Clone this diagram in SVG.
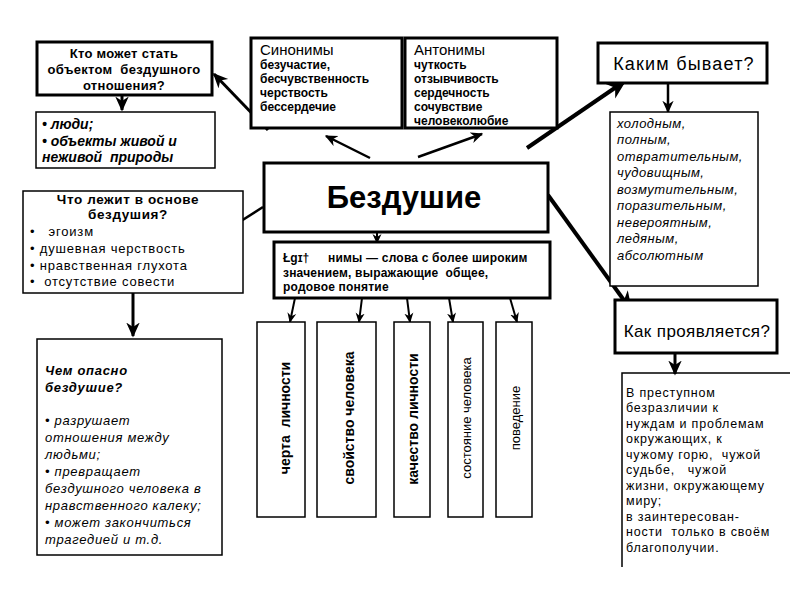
<svg xmlns="http://www.w3.org/2000/svg" width="800" height="600" viewBox="0 0 800 600">
<defs>
<marker id="ah" viewBox="0 0 10 10" refX="9" refY="5" markerWidth="5" markerHeight="5" orient="auto" markerUnits="strokeWidth">
<path d="M0,0.5 L10,5 L0,9.5 L3,5 z" fill="#000"/>
</marker>
<marker id="ahs" viewBox="0 0 10 10" refX="9" refY="5" markerWidth="5" markerHeight="5" orient="auto" markerUnits="strokeWidth">
<path d="M0,0.5 L10,5 L0,9.5 L3,5 z" fill="#000"/>
</marker>
</defs>
<style>
text{font-family:"Liberation Sans",Arial,sans-serif;fill:#000;white-space:pre}
.thick{fill:#fff;stroke:#000;stroke-width:3}
.thin{fill:#fff;stroke:#000;stroke-width:1.5}
.b{font-weight:bold}
.i{font-style:italic}
.c{text-anchor:middle}
.con{stroke:#000;fill:none}
</style>
<rect width="800" height="600" fill="#fff"/>

<g id="connectors">
<line class="con" x1="122" y1="95" x2="122" y2="110" stroke-width="3" marker-end="url(#ahs)"/>
<line class="con" x1="268" y1="130" x2="214" y2="74" stroke-width="3" marker-end="url(#ah)"/>
<line class="con" x1="370" y1="158" x2="326" y2="136" stroke-width="2.5" marker-end="url(#ah)"/>
<line class="con" x1="418" y1="157" x2="482" y2="134" stroke-width="2.5" marker-end="url(#ah)"/>
<line class="con" x1="527" y1="148" x2="625" y2="81" stroke-width="4" marker-end="url(#ah)"/>
<line class="con" x1="548" y1="195" x2="631" y2="310" stroke-width="4" marker-end="url(#ah)"/>
<line class="con" x1="263" y1="207" x2="230" y2="228" stroke-width="2.5" marker-end="url(#ah)"/>
<line class="con" x1="133" y1="293" x2="133" y2="336" stroke-width="3" marker-end="url(#ahs)"/>
<line class="con" x1="668" y1="83" x2="668" y2="112" stroke-width="2.5" marker-end="url(#ahs)"/>
<line class="con" x1="377" y1="232" x2="377" y2="243" stroke-width="2" marker-end="url(#ahs)"/>
<line class="con" x1="675" y1="353" x2="675" y2="374" stroke-width="3" marker-end="url(#ahs)"/>
<line class="con" x1="295" y1="298" x2="290" y2="322" stroke-width="2" marker-end="url(#ahs)"/>
<line class="con" x1="362" y1="298" x2="359" y2="322" stroke-width="2" marker-end="url(#ahs)"/>
<line class="con" x1="407" y1="298" x2="410" y2="322" stroke-width="2" marker-end="url(#ahs)"/>
<line class="con" x1="449" y1="298" x2="453" y2="322" stroke-width="2" marker-end="url(#ahs)"/>
<line class="con" x1="510" y1="298" x2="517" y2="322" stroke-width="2" marker-end="url(#ahs)"/>
</g>

<g id="kto">
<rect class="thick" x="37" y="42" width="175" height="53"/>
<text class="b c" font-size="13" letter-spacing="0.3" x="124" y="58">Кто может стать</text>
<text class="b c" font-size="13" letter-spacing="0.3" x="124" y="74">объектом  бездушного</text>
<text class="b c" font-size="13" letter-spacing="0.3" x="124" y="90">отношения?</text>
</g>

<g id="ludi">
<rect class="thin" x="36" y="112" width="179" height="56"/>
<text class="b i" font-size="14" x="42" y="129">• люди;</text>
<text class="b i" font-size="14" x="42" y="146">• объекты живой и</text>
<text class="b i" font-size="14" x="42" y="162">неживой  природы</text>
</g>

<g id="sinonimy">
<rect class="thick" x="251" y="38" width="151" height="90"/>
<text font-size="15" x="260" y="55">Синонимы</text>
<text class="b" font-size="12" x="260" y="69">безучастие,</text>
<text class="b" font-size="12" x="260" y="83">бесчувственность</text>
<text class="b" font-size="12" x="260" y="97">черствость</text>
<text class="b" font-size="12" x="260" y="111">бессердечие</text>
</g>

<g id="antonimy">
<rect class="thick" x="405" y="38" width="152" height="90"/>
<text font-size="15" x="414" y="55">Антонимы</text>
<text class="b" font-size="12" x="414" y="69">чуткость</text>
<text class="b" font-size="12" x="414" y="83">отзывчивость</text>
<text class="b" font-size="12" x="414" y="97">сердечность</text>
<text class="b" font-size="12" x="414" y="111">сочувствие</text>
<text class="b" font-size="12" x="414" y="125">человеколюбие</text>
</g>

<g id="kakim">
<rect class="thick" x="598" y="43" width="169" height="40"/>
<text class="c" font-size="18" letter-spacing="1.2" x="684" y="70">Каким бывает?</text>
</g>

<g id="spisok">
<rect class="thin" x="610" y="112" width="148" height="174" stroke="#333"/>
<g class="i" font-size="13" letter-spacing="0.5" fill="#222">
<text x="617" y="128">холодным,</text>
<text x="617" y="144">полным,</text>
<text x="617" y="161">отвратительным,</text>
<text x="617" y="177">чудовищным,</text>
<text x="617" y="194">возмутительным,</text>
<text x="617" y="210">поразительным,</text>
<text x="617" y="227">невероятным,</text>
<text x="617" y="243">ледяным,</text>
<text x="617" y="260">абсолютным</text>
</g>
</g>

<g id="bezdushie">
<rect class="thick" x="264" y="163" width="284" height="69"/>
<text class="b c" font-size="31" x="404" y="208">Бездушие</text>
</g>

<g id="giperonimy">
<rect class="thick" x="274" y="242" width="276" height="56" stroke-width="2.5"/>
<text class="b" font-size="12" x="283" y="262">Łgɪ†</text>
<text class="b" font-size="12" letter-spacing="0.2" x="328" y="262">нимы — слова с более широким</text>
<text class="b" font-size="12" letter-spacing="0.2" x="283" y="277">значением, выражающие  общее,</text>
<text class="b" font-size="12" letter-spacing="0.2" x="283" y="291">родовое понятие</text>
</g>

<g id="v1">
<rect class="thin" x="257" y="322" width="48" height="195"/>
<text class="b c" font-size="14" transform="translate(290,418) rotate(-90)">черта  личности</text>
</g>
<g id="v2">
<rect class="thin" x="317" y="322" width="59" height="195"/>
<text class="b c" font-size="14" transform="translate(354,418) rotate(-90)">свойство человека</text>
</g>
<g id="v3">
<rect class="thin" x="394" y="322" width="36" height="195"/>
<text class="b c" font-size="14" transform="translate(418,419) rotate(-90)">качество личности</text>
</g>
<g id="v4">
<rect class="thin" x="448" y="322" width="35" height="195"/>
<text class="c" font-size="13" transform="translate(471,418) rotate(-90)">состояние человека</text>
</g>
<g id="v5">
<rect class="thin" x="496" y="322" width="36" height="195"/>
<text class="c" font-size="13" transform="translate(520,418) rotate(-90)">поведение</text>
</g>

<g id="osnova">
<rect class="thin" x="23" y="191" width="220" height="102"/>
<text class="b c" font-size="13.5" letter-spacing="0.6" x="128" y="204">Что лежит в основе</text>
<text class="b c" font-size="13.5" letter-spacing="0.6" x="128" y="219">бездушия?</text>
<g font-size="13" letter-spacing="0.8">
<text x="30" y="236">•   эгоизм</text>
<text x="30" y="253">• душевная черствость</text>
<text x="30" y="270">• нравственная глухота</text>
<text x="30" y="286">•  отсутствие совести</text>
</g>
</g>

<g id="opasno">
<rect class="thin" x="37" y="339" width="185" height="216" stroke="#444"/>
<g class="i" font-size="13" letter-spacing="0.7" fill="#222">
<text class="b" x="45" y="375">Чем опасно</text>
<text class="b" x="45" y="392">бездушие?</text>
<text x="45" y="425">• разрушает</text>
<text x="45" y="442">отношения между</text>
<text x="45" y="459">людьми;</text>
<text x="45" y="476">• превращает</text>
<text x="45" y="493">бездушного человека в</text>
<text x="45" y="510">нравственного калеку;</text>
<text x="45" y="527">• может закончиться</text>
<text x="45" y="544">трагедией и т.д.</text>
</g>
</g>

<g id="proyavl">
<rect class="thick" x="615" y="300" width="162" height="53"/>
<text class="c" font-size="17" letter-spacing="0.4" x="697" y="337">Как проявляется?</text>
</g>

<g id="prestupnom">
<path d="M622,567 V373 H790" fill="none" stroke="#000" stroke-width="1.5"/>
<g font-size="12.5" letter-spacing="0.8" fill="#222">
<text x="626" y="397">В преступном</text>
<text x="626" y="412">безразличии к</text>
<text x="626" y="428">нуждам и проблемам</text>
<text x="626" y="443">окружающих, к</text>
<text x="626" y="459">чужому горю,  чужой</text>
<text x="626" y="474">судьбе,   чужой</text>
<text x="626" y="490">жизни, окружающему</text>
<text x="626" y="505">миру;</text>
<text x="626" y="521">в заинтересован-</text>
<text x="626" y="536">ности  только в своём</text>
<text x="626" y="552">благополучии.</text>
</g>
</g>
</svg>
